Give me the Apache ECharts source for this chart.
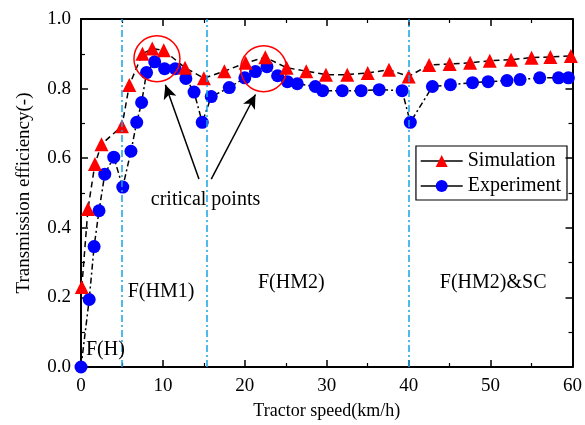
<!DOCTYPE html>
<html>
<head>
<meta charset="utf-8">
<script src="https://cdn.jsdelivr.net/npm/echarts@6/dist/echarts.min.js"></script>
<style>
  html, body { margin: 0; padding: 0; background: #fff; }
  #main { width: 585px; height: 425px; }
</style>
</head>
<body>
<div id="main"></div>
<script>
// data
const simSpeed = [0.1, 0.85, 1.7, 2.5, 5.0, 5.9, 7.5, 8.7, 10.1, 12.7, 15.0, 17.5, 20.1, 22.5, 25.1, 27.5, 29.9, 32.5, 35.0, 37.6, 40.0, 42.5, 45.0, 47.5, 49.9, 52.5, 55.0, 57.3, 59.8]
const simEff = [0.23, 0.454, 0.583, 0.64, 0.692, 0.81, 0.9, 0.915, 0.91, 0.86, 0.83, 0.85, 0.874, 0.89, 0.86, 0.85, 0.84, 0.84, 0.845, 0.854, 0.835, 0.868, 0.871, 0.874, 0.88, 0.883, 0.889, 0.891, 0.894]
const expSpeed = [0.0, 1.0, 1.6, 2.2, 2.9, 4.0, 5.1, 6.1, 6.8, 7.4, 8.0, 9.0, 10.2, 11.5, 12.8, 13.8, 14.8, 15.9, 18.1, 20.0, 21.3, 22.7, 24.0, 25.2, 26.4, 28.6, 29.5, 31.9, 34.2, 36.4, 39.2, 40.2, 42.9, 45.1, 47.8, 49.7, 52.0, 53.6, 56.0, 58.3, 59.5]
const expEff = [0.0, 0.194, 0.346, 0.449, 0.554, 0.603, 0.517, 0.62, 0.703, 0.76, 0.846, 0.877, 0.857, 0.857, 0.829, 0.79, 0.703, 0.777, 0.803, 0.831, 0.849, 0.863, 0.837, 0.82, 0.814, 0.806, 0.794, 0.794, 0.794, 0.797, 0.794, 0.703, 0.806, 0.811, 0.817, 0.82, 0.823, 0.826, 0.831, 0.831, 0.831]
const boundaries = [5, 15.3, 40]
const regionLabels = [
  { text: 'F(H)', x: 0.6, y: 0.05 },
  { text: 'F(HM1)', x: 5.7, y: 0.215 },
  { text: 'F(HM2)', x: 21.6, y: 0.243 },
  { text: 'F(HM2)&SC', x: 43.8, y: 0.243 }
]
const criticalCircles = [[9.27, 0.886], [22.3, 0.857]]
const arrows = [
  [[14.4, 0.54], [10.3, 0.811]],
  [[15.9, 0.54], [21.3, 0.783]]
]

const font = 'Liberation Serif, Times New Roman, serif'
const chart = echarts.init(document.getElementById('main'))

const zip = (xs, ys) => xs.map((x, i) => [x, ys[i]])

function frameAxis (extra) {
  return Object.assign({
    type: 'value',
    axisLine: { show: true, onZero: false, lineStyle: { color: '#000', width: 2 } },
    axisTick: { show: true, inside: true, length: 7, lineStyle: { color: '#000', width: 1.5 } },
    minorTick: { show: true, splitNumber: 2, length: 4, lineStyle: { color: '#000', width: 1.2 } },
    splitLine: { show: false }
  }, extra)
}

const option = {
  animation: false,
  textStyle: { fontFamily: font },
  grid: { left: 81, right: 9, top: 19, bottom: 56 },
  legend: {
    right: 18,
    top: 146,
    orient: 'vertical',
    itemWidth: 42,
    itemHeight: 15,
    itemGap: 5,
    padding: [5, 6, 4, 4],
    borderColor: '#000',
    borderWidth: 1.2,
    lineStyle: { type: 'solid', color: '#000', width: 1.5 },
    textStyle: { fontFamily: font, fontSize: 20, color: '#000' },
    data: ['Simulation', 'Experiment']
  },
  xAxis: [
    frameAxis({
      min: 0,
      max: 60,
      interval: 10,
      name: 'Tractor speed(km/h)',
      nameLocation: 'middle',
      nameGap: 35,
      nameTextStyle: { fontFamily: font, fontSize: 18, color: '#000' },
      axisLabel: { fontFamily: font, fontSize: 19, color: '#000', margin: 10 }
    }),
    frameAxis({ position: 'top', min: 0, max: 60, interval: 10, axisLabel: { show: false } })
  ],
  yAxis: [
    frameAxis({
      min: 0,
      max: 1,
      interval: 0.2,
      name: 'Transmission efficiency(-)',
      nameLocation: 'middle',
      nameGap: 47,
      nameTextStyle: { fontFamily: font, fontSize: 19, color: '#000' },
      axisLabel: { fontFamily: font, fontSize: 19, color: '#000', margin: 10, formatter: v => v.toFixed(1) }
    }),
    frameAxis({ position: 'right', min: 0, max: 1, interval: 0.2, axisLabel: { show: false } })
  ],
  series: [
    {
      name: 'Simulation',
      type: 'line',
      data: zip(simSpeed, simEff),
      symbol: 'triangle',
      symbolSize: 14,
      z: 4,
      itemStyle: { color: '#ff0000' },
      lineStyle: { color: '#000', width: 1.5, type: [6, 4] },
      markLine: {
        silent: true,
        symbol: 'none',
        label: { show: false },
        lineStyle: { color: '#1aa3e8', width: 1.5, type: [7, 3, 2, 3] },
        data: boundaries.map(b => ({ xAxis: b }))
      }
    },
    {
      name: 'Experiment',
      type: 'line',
      data: zip(expSpeed, expEff),
      symbol: 'circle',
      symbolSize: 13,
      z: 3,
      itemStyle: { color: '#0000ff' },
      lineStyle: { color: '#000', width: 1.5, type: [6, 3, 2, 3] },
      markLine: {
        silent: true,
        symbol: ['none', 'arrow'],
        symbolSize: [10, 14],
        label: { show: false },
        lineStyle: { color: '#000', width: 1.5, type: 'solid' },
        data: arrows.map(a => [{ coord: a[0] }, { coord: a[1] }])
      }
    }
  ]
}

chart.setOption(option)

// annotations placed through the axes
const px = p => chart.convertToPixel({ gridIndex: 0 }, p)
const graphics = []
criticalCircles.forEach(c => {
  const p = px(c)
  graphics.push({
    type: 'circle',
    shape: { cx: p[0], cy: p[1], r: 23 },
    style: { fill: 'none', stroke: '#ff0000', lineWidth: 1.5 },
    z: 10
  })
})
regionLabels.forEach(l => {
  const p = px([l.x, l.y])
  graphics.push({
    type: 'text',
    x: p[0],
    y: p[1],
    style: { text: l.text, font: '20px ' + font, fill: '#000', textAlign: 'left', textVerticalAlign: 'middle' },
    z: 10
  })
})
const cp = px([15.2, 0.48])
graphics.push({
  type: 'text',
  x: cp[0],
  y: cp[1],
  style: { text: 'critical points', font: '20px ' + font, fill: '#000', textAlign: 'center', textVerticalAlign: 'middle' },
  z: 10
})
chart.setOption({ graphic: graphics })
</script>
</body>
</html>
